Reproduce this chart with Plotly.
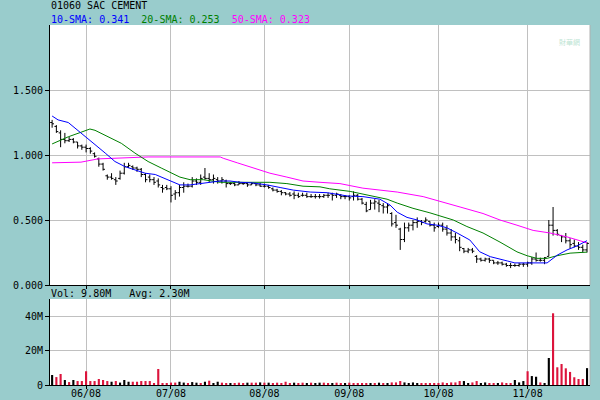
import plotly.graph_objects as go
import pandas as pd

# ---------------- data ----------------
title_text = "01060 SAC CEMENT"
holidays = ["2008-06-09", "2008-07-01", "2008-08-22", "2008-09-15", "2008-10-01", "2008-10-07"]
days = [d for d in pd.bdate_range("2008-05-21", "2008-11-21") if d.strftime("%Y-%m-%d") not in holidays]

open_ = [1.25, 1.22, 1.17, 1.12, 1.11, 1.12, 1.10, 1.07, 1.06, 1.05,
         1.01, 0.97, 0.93, 0.84, 0.83, 0.81, 0.82, 0.86, 0.91, 0.91,
         0.90, 0.89, 0.85, 0.83, 0.81, 0.80, 0.75, 0.75, 0.74, 0.70,
         0.71, 0.75, 0.76, 0.76, 0.80, 0.79, 0.83, 0.82, 0.81, 0.81,
         0.80, 0.80, 0.78, 0.78, 0.77, 0.78, 0.78, 0.77, 0.78, 0.77,
         0.76, 0.76, 0.74, 0.73, 0.72, 0.71, 0.70, 0.70, 0.69, 0.69,
         0.69, 0.68, 0.68, 0.68, 0.68, 0.69, 0.70, 0.69, 0.69, 0.68,
         0.68, 0.68, 0.69, 0.66, 0.62, 0.58, 0.63, 0.63, 0.61, 0.60,
         0.55, 0.48, 0.43, 0.35, 0.44, 0.46, 0.48, 0.49, 0.49, 0.49,
         0.46, 0.45, 0.46, 0.43, 0.40, 0.37, 0.34, 0.28, 0.26, 0.27,
         0.22, 0.20, 0.19, 0.20, 0.19, 0.17, 0.17, 0.16, 0.15, 0.15,
         0.15, 0.16, 0.16, 0.17, 0.20, 0.19, 0.19, 0.22, 0.46, 0.42,
         0.38, 0.37, 0.34, 0.32, 0.30, 0.29, 0.27]
high = [1.27, 1.23, 1.19, 1.17, 1.14, 1.13, 1.10, 1.08, 1.08, 1.06,
        1.02, 0.98, 0.94, 0.85, 0.86, 0.83, 0.88, 0.94, 0.94, 0.92,
        0.91, 0.90, 0.86, 0.85, 0.83, 0.82, 0.77, 0.77, 0.76, 0.73,
        0.77, 0.79, 0.78, 0.83, 0.82, 0.85, 0.90, 0.86, 0.85, 0.83,
        0.83, 0.81, 0.79, 0.79, 0.80, 0.79, 0.79, 0.79, 0.785, 0.785,
        0.78, 0.77, 0.75, 0.74, 0.73, 0.715, 0.715, 0.72, 0.71, 0.71,
        0.71, 0.70, 0.70, 0.70, 0.70, 0.71, 0.71, 0.71, 0.70, 0.69,
        0.69, 0.72, 0.70, 0.67, 0.64, 0.655, 0.66, 0.655, 0.63, 0.63,
        0.56, 0.54, 0.44, 0.48, 0.48, 0.50, 0.52, 0.50, 0.52, 0.49,
        0.48, 0.48, 0.48, 0.46, 0.43, 0.40, 0.37, 0.285, 0.285, 0.285,
        0.23, 0.21, 0.21, 0.21, 0.19, 0.185, 0.18, 0.17, 0.17, 0.165,
        0.17, 0.17, 0.18, 0.215, 0.25, 0.21, 0.215, 0.50, 0.60, 0.43,
        0.385, 0.40, 0.36, 0.35, 0.33, 0.31, 0.33]
low = [1.21, 1.17, 1.06, 1.09, 1.10, 1.09, 1.05, 1.04, 1.02, 1.01,
       0.98, 0.91, 0.88, 0.81, 0.81, 0.77, 0.81, 0.85, 0.90, 0.885,
       0.87, 0.83, 0.79, 0.79, 0.77, 0.75, 0.71, 0.73, 0.635, 0.655,
       0.68, 0.71, 0.75, 0.75, 0.77, 0.77, 0.81, 0.79, 0.78, 0.78,
       0.78, 0.75, 0.77, 0.76, 0.77, 0.77, 0.755, 0.77, 0.76, 0.755,
       0.75, 0.74, 0.72, 0.71, 0.69, 0.69, 0.68, 0.66, 0.67, 0.68,
       0.67, 0.67, 0.665, 0.665, 0.67, 0.67, 0.65, 0.67, 0.66, 0.66,
       0.65, 0.65, 0.65, 0.62, 0.56, 0.58, 0.58, 0.56, 0.55, 0.55,
       0.45, 0.44, 0.27, 0.33, 0.41, 0.42, 0.44, 0.46, 0.48, 0.45,
       0.41, 0.44, 0.41, 0.38, 0.34, 0.32, 0.26, 0.245, 0.245, 0.245,
       0.17, 0.18, 0.18, 0.17, 0.16, 0.155, 0.15, 0.14, 0.13, 0.14,
       0.14, 0.14, 0.14, 0.155, 0.18, 0.18, 0.16, 0.22, 0.38, 0.38,
       0.33, 0.32, 0.28, 0.29, 0.27, 0.25, 0.25]
close = [1.24, 1.18, 1.12, 1.11, 1.12, 1.10, 1.07, 1.06, 1.05, 1.03,
         0.99, 0.93, 0.89, 0.83, 0.82, 0.80, 0.86, 0.91, 0.92, 0.90,
         0.89, 0.85, 0.81, 0.81, 0.79, 0.77, 0.74, 0.74, 0.69, 0.71,
         0.75, 0.76, 0.76, 0.80, 0.79, 0.82, 0.82, 0.81, 0.82, 0.80,
         0.81, 0.78, 0.78, 0.77, 0.78, 0.78, 0.77, 0.78, 0.77, 0.76,
         0.76, 0.75, 0.73, 0.72, 0.71, 0.70, 0.69, 0.69, 0.68, 0.69,
         0.68, 0.68, 0.68, 0.68, 0.69, 0.69, 0.69, 0.70, 0.68, 0.68,
         0.67, 0.69, 0.66, 0.63, 0.57, 0.63, 0.64, 0.62, 0.60, 0.61,
         0.47, 0.46, 0.35, 0.44, 0.46, 0.48, 0.49, 0.48, 0.50, 0.46,
         0.44, 0.46, 0.43, 0.40, 0.37, 0.35, 0.29, 0.26, 0.27, 0.26,
         0.20, 0.19, 0.20, 0.19, 0.17, 0.17, 0.16, 0.15, 0.15, 0.15,
         0.16, 0.16, 0.17, 0.20, 0.19, 0.19, 0.21, 0.46, 0.42, 0.39,
         0.37, 0.34, 0.31, 0.30, 0.29, 0.27, 0.32]

# volume in millions of shares, and whether the day was up (U) or down (D)
volume_m = [5.8, 4.6, 6.4, 2.9, 1.7, 2.9, 2.3, 2.3, 8.0, 2.3,
            2.3, 3.5, 2.9, 2.3, 1.9, 2.3, 1.4, 2.9, 1.9, 1.9,
            1.9, 2.3, 2.3, 2.3, 1.0, 9.3, 1.0, 0.6, 1.4, 1.4,
            1.9, 1.4, 1.0, 1.7, 1.35, 0.96, 1.9, 2.5, 0.96, 1.9,
            1.35, 0.96, 0.96, 0.96, 1.35, 0.96, 1.35, 1.35, 1.35, 1.5,
            1.35, 1.35, 0.96, 1.35, 0.96, 1.9, 0.96, 1.35, 0.96, 1.35,
            0.96, 1.35, 0.96, 1.35, 1.35, 0.96, 0.96, 1.35, 0.96, 0.96,
            1.35, 0.96, 0.96, 0.96, 0.6, 0.96, 0.96, 1.35, 0.8, 1.1,
            1.5, 1.5, 2.3, 1.5, 1.0, 1.5, 1.0, 1.0, 1.0, 0.6,
            0.6, 1.0, 1.5, 1.0, 1.5, 1.5, 2.3, 2.3, 1.0, 1.5,
            2.3, 1.0, 1.5, 1.0, 1.0, 0.6, 1.5, 1.0, 0.6, 2.9,
            1.5, 2.3, 8.0, 5.2, 4.8, 1.5, 1.0, 15.7, 41.7, 10.3,
            12.2, 9.7, 7.6, 4.5, 3.5, 3.5, 9.8]
day_dir = list("URRURURRRR" "RRRRURUUUR" "RRRRRRRRRR" "UURUURURUU"
               "RRURRRURRU" "RURRRRRURR" "URUURRURRU" "RRRRRURURU"
               "RRRUUUURRR" "RRRRRRRUUR" "RUURRURRRU" "UURUURUURR"
               "RRRRRRU")
avg_volume_m = 2.30

# moving averages at (bar index, value) points
sma10_idx = [0, 1.4, 3.8, 6.1, 7.8, 10.1, 12.5, 14.8, 17.2, 19.5, 21.9, 24.3, 26.6, 29.4,
             30.1, 32.5, 34.9, 37.2, 39.6, 41.9, 44.3, 47.3, 50.6, 53.7, 56.8, 60.8, 64.8,
             69.5, 73.2, 77.2, 79.6, 81.3, 83.6, 86.0, 88.3, 90.7, 93.0, 95.4, 98.4, 100.7,
             103.2, 107.2, 109.0, 116.6, 119.0, 121.3, 123.6, 126]
sma10_val = [1.30, 1.27, 1.25, 1.19, 1.14, 1.08, 1.015, 0.95, 0.91, 0.885, 0.86, 0.85, 0.82, 0.785,
             0.77, 0.77, 0.78, 0.79, 0.80, 0.80, 0.79, 0.785, 0.77, 0.75, 0.73, 0.715, 0.71,
             0.685, 0.68, 0.66, 0.615, 0.56, 0.52, 0.50, 0.47, 0.46, 0.44, 0.40, 0.346, 0.256,
             0.218, 0.185, 0.17, 0.17, 0.23, 0.27, 0.30, 0.341]
sma20_idx = [0, 3.8, 6.8, 8.9, 10.1, 13.2, 16.3, 19.5, 22.6, 25.7, 29.0, 30.1, 32.5, 35.6,
             39.6, 43.6, 47.3, 51.3, 55.3, 59.1, 63.1, 65.4, 70.2, 74.9, 78.9, 81.3, 85.0,
             89.0, 93.0, 94.5, 97.7, 101.5, 105.5, 109.5, 111.9, 114.2, 116.6, 118.9, 122.0, 126]
sma20_val = [1.085, 1.14, 1.175, 1.20, 1.19, 1.14, 1.09, 1.015, 0.95, 0.90, 0.845, 0.83, 0.81, 0.81,
             0.79, 0.79, 0.79, 0.79, 0.78, 0.76, 0.755, 0.74, 0.72, 0.685, 0.66, 0.63, 0.59,
             0.555, 0.515, 0.50, 0.45, 0.40, 0.33, 0.255, 0.225, 0.205, 0.205, 0.225, 0.245, 0.253]
sma50_idx = [0, 6.8, 10.8, 14.8, 22.6, 39.6, 40.3, 43.6, 47.3, 51.3, 55.3, 59.1, 63.1, 67.8,
             73.2, 81.3, 87.4, 92.1, 96.1, 101.5, 105.5, 109.5, 113.3, 117.3, 121.3, 124.4, 126]
sma50_val = [0.94, 0.945, 0.97, 0.975, 0.985, 0.985, 0.975, 0.94, 0.90, 0.86, 0.83, 0.80, 0.79, 0.78,
             0.745, 0.715, 0.68, 0.64, 0.60, 0.55, 0.50, 0.46, 0.42, 0.40, 0.37, 0.34, 0.323]

price_ticks = [0, 0.5, 1.0, 1.5]
volume_ticks = [0, 20e6, 40e6]
volume_tick_text = ["0", "20M", "40M"]

# ---------------- figure ----------------
n = len(days)
idx = list(range(n))
month_idx = [i for i in range(1, n) if days[i].month != days[i - 1].month]
month_lbl = [days[i].strftime("%m/%y") for i in month_idx]

MONO = "DejaVu Sans Mono"
GRID = "#C0C0C0"
BG = "#99CCCC"

fig = go.Figure()
fig.add_trace(go.Ohlc(x=idx, open=open_, high=high, low=low, close=close,
                      increasing_line_color="black", decreasing_line_color="black",
                      line_width=1, tickwidth=0.45, xaxis="x2", yaxis="y",
                      hoverinfo="skip"))
for xs, ys, col in [(sma50_idx, sma50_val, "#FF00FF"),
                    (sma20_idx, sma20_val, "#008000"),
                    (sma10_idx, sma10_val, "#0000FF")]:
    fig.add_trace(go.Scatter(x=xs, y=ys, mode="lines", line=dict(color=col, width=1),
                             xaxis="x2", yaxis="y", hoverinfo="skip"))
fig.add_trace(go.Bar(x=idx, y=[v * 1e6 for v in volume_m],
                     marker_color=["black" if d == "U" else "#DC143C" for d in day_dir],
                     marker_line_width=0, width=0.5, xaxis="x", yaxis="y2"))

axis_common = dict(showline=True, linecolor="black", linewidth=1, ticks="outside",
                   tickcolor="black", zeroline=False, showgrid=True, gridcolor=GRID,
                   gridwidth=1, automargin=False,
                   tickfont=dict(family=MONO, size=10, color="black"))

fig.update_layout(
    width=600, height=400, showlegend=False,
    paper_bgcolor=BG, plot_bgcolor="white",
    margin=dict(l=50, r=10, t=25, b=15, autoexpand=False),
    xaxis=dict(domain=[0, 1], anchor="y2", range=[-0.5, 126.7], tickmode="array",
               tickvals=month_idx, ticktext=month_lbl, ticklen=3, ticklabelstandoff=-4,
               rangeslider=dict(visible=False), **axis_common),
    xaxis2=dict(domain=[0, 1], anchor="y", matches="x", tickmode="array",
                tickvals=month_idx, showticklabels=False, ticklen=3,
                rangeslider=dict(visible=False), **axis_common),
    yaxis=dict(domain=[100 / 360, 1], anchor="x2", range=[0, 2.0], tickmode="array",
               tickvals=price_ticks, tickformat=".3f", ticklen=4, **axis_common),
    yaxis2=dict(domain=[0, 86 / 360], anchor="x", range=[0, 50e6], tickmode="array",
                tickvals=volume_ticks, ticktext=volume_tick_text, ticklen=4, **axis_common),
)

# right-hand border of both panes
for yref in ["y domain", "y2 domain"]:
    fig.add_shape(type="line", xref="paper", yref=yref, x0=1, x1=1, y0=0, y1=1,
                  line=dict(color="#B0B0B0", width=1))

sp = "\u00a0"
fig.add_annotation(xref="paper", yref="paper", x=0, y=(385 - 6) / 360, xanchor="left",
                   yanchor="middle", showarrow=False, text=title_text,
                   font=dict(family=MONO, size=10, color="black"), borderpad=0)
sma_text = (f"<span style='color:#0000FF'>10-SMA:{sp}{sma10_val[-1]:.3f}</span>{sp*2}"
            f"<span style='color:#008000'>20-SMA:{sp}{sma20_val[-1]:.3f}</span>{sp*2}"
            f"<span style='color:#FF00FF'>50-SMA:{sp}{sma50_val[-1]:.3f}</span>")
fig.add_annotation(xref="paper", yref="paper", x=0, y=(385 - 19) / 360, xanchor="left",
                   yanchor="middle", showarrow=False, text=sma_text,
                   font=dict(family=MONO, size=10), borderpad=0)
fig.add_annotation(xref="paper", yref="paper", x=0, y=(385 - 293.5) / 360, xanchor="left",
                   yanchor="middle", showarrow=False,
                   text=f"Vol:{sp}{volume_m[-1]:.2f}M{sp*3}Avg:{sp}{avg_volume_m:.2f}M",
                   font=dict(family=MONO, size=10, color="black"), borderpad=0)
# faint watermark
fig.add_annotation(xref="paper", yref="paper", x=0.985, y=(385 - 42) / 360, xanchor="right",
                   yanchor="middle", showarrow=False, text="財華網",
                   font=dict(family="Noto Sans CJK SC", size=7, color="#BFE5D5"))

fig.write_html("out.html", config={"displayModeBar": False},
               post_script="document.body.style.margin='0';document.body.style.overflow='hidden';")
